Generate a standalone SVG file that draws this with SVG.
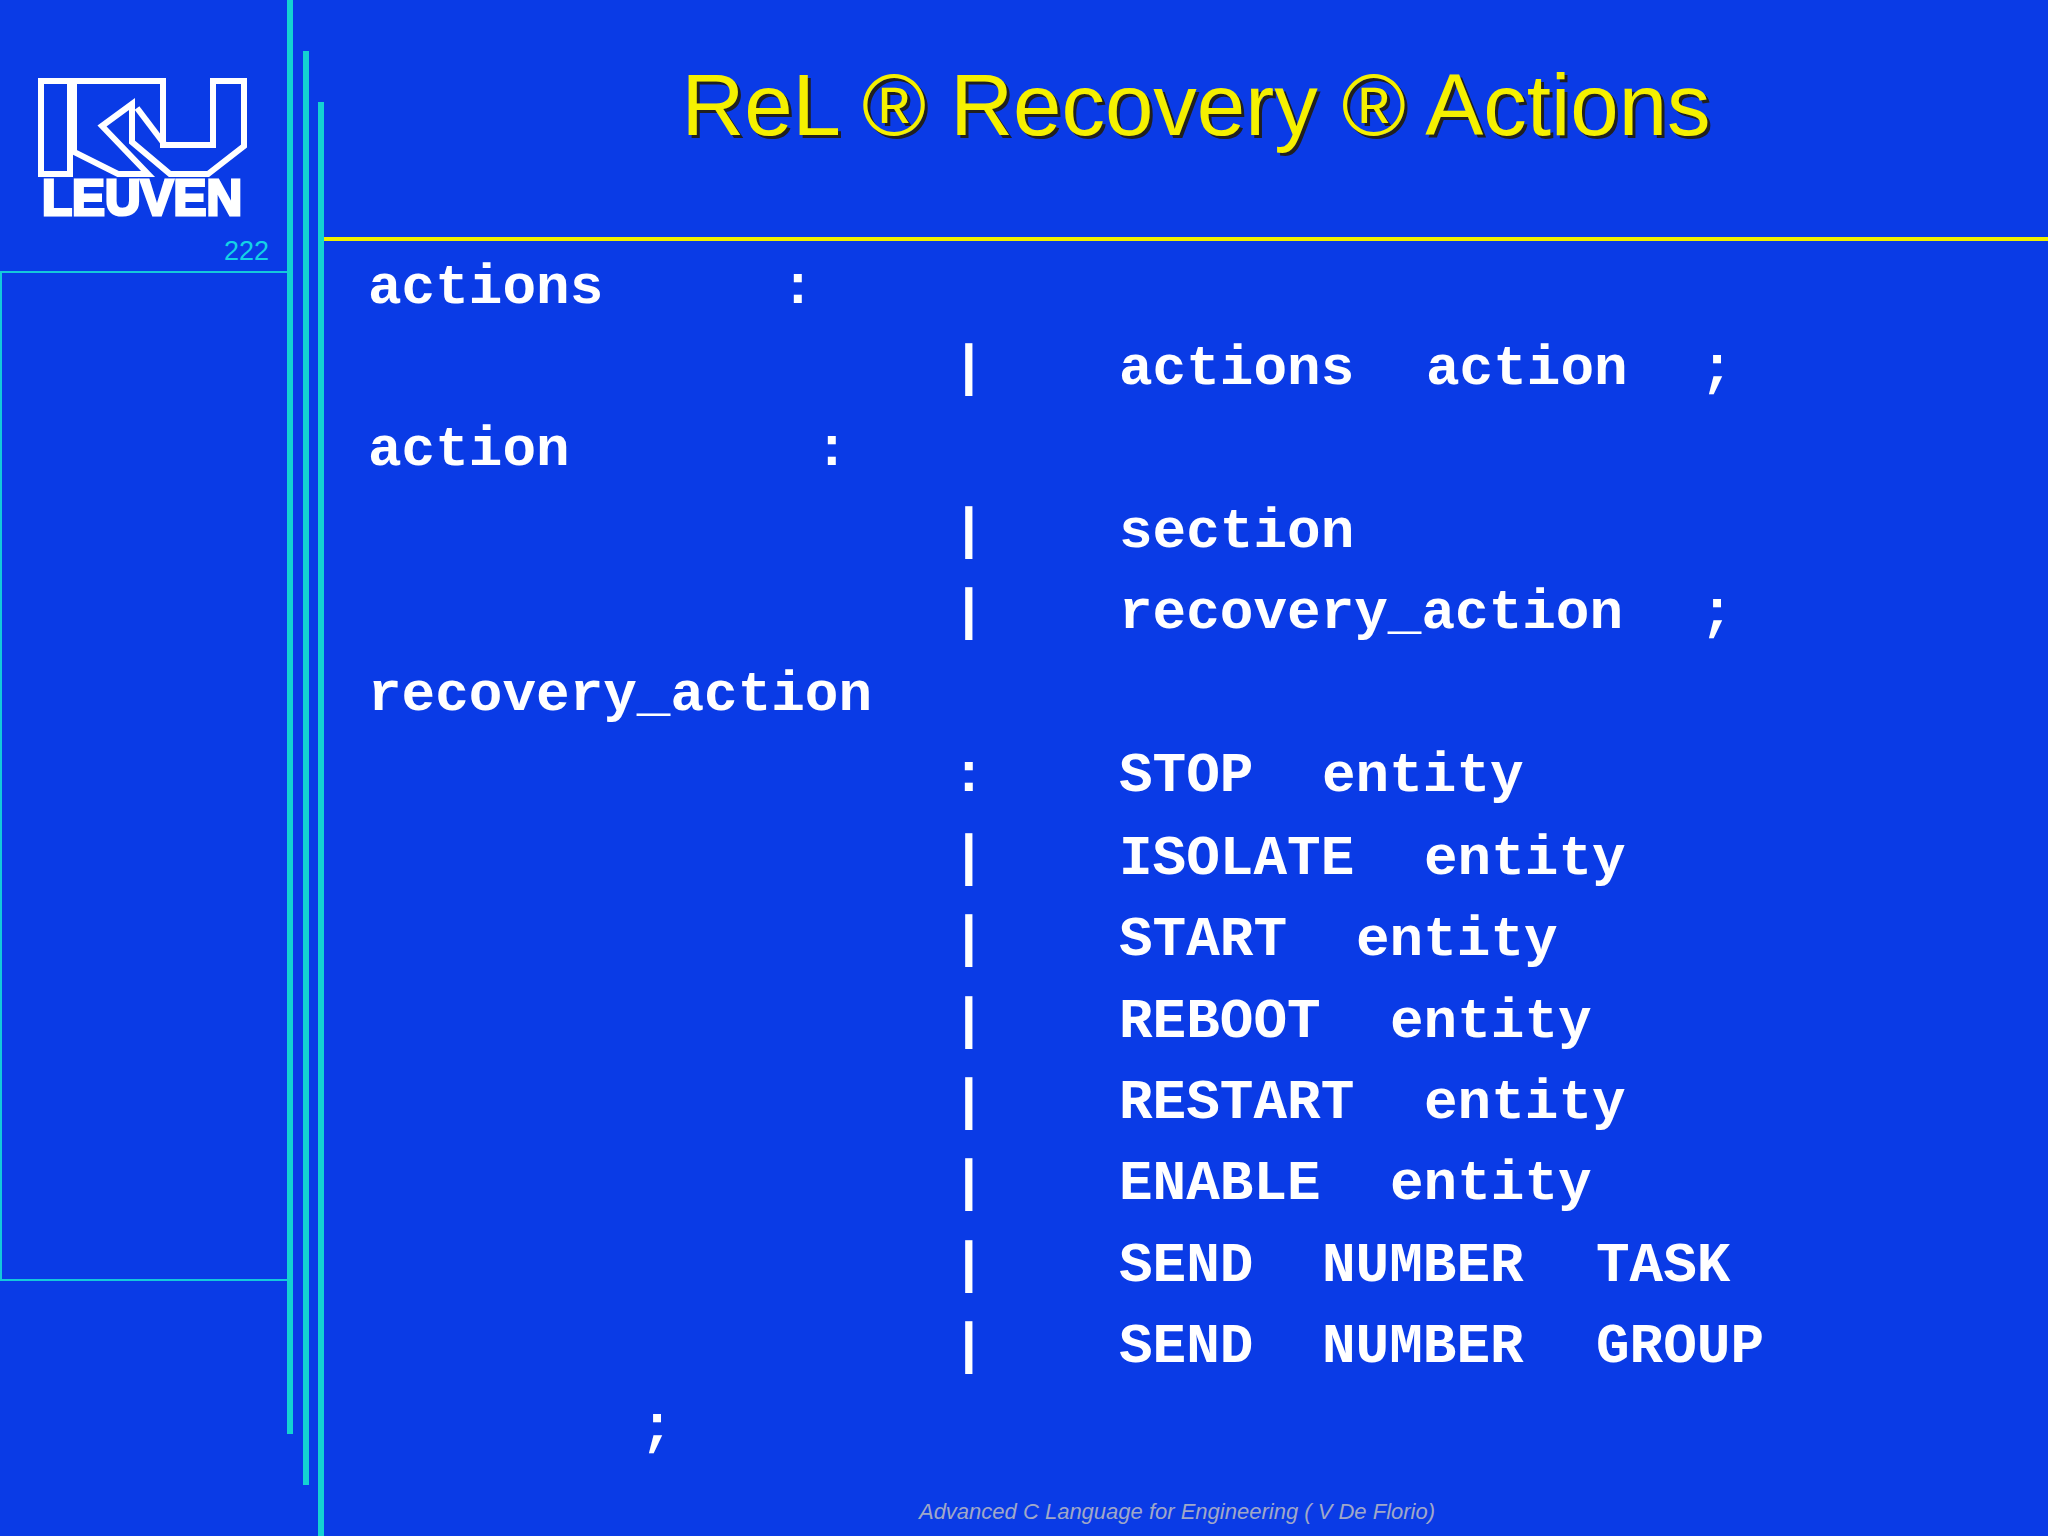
<svg xmlns="http://www.w3.org/2000/svg" width="2048" height="1536" viewBox="0 0 2048 1536">
<style>
.c{font-family:"Liberation Mono","Courier New",monospace;font-weight:bold;font-size:56px;fill:#fff}
.bar{stroke:#14d2d2;stroke-width:6}
</style>
<rect width="2048" height="1536" fill="#0a3be6"/>
<g id="frame">
<rect x="1" y="272" width="287" height="1008" fill="none" stroke="#14c8dc" stroke-width="2"/>
<line class="bar" x1="290" y1="0" x2="290" y2="1434"/>
<line class="bar" x1="306" y1="51" x2="306" y2="1485"/>
<line class="bar" x1="321" y1="102" x2="321" y2="1536"/>
<line x1="324" y1="239" x2="2048" y2="239" stroke="#f0f000" stroke-width="4"/>
</g>
<g id="logo" fill="none" stroke="#fff" stroke-width="6" stroke-linejoin="miter">
<path d="M41,81 H70 V174 H41 Z"/>
<path d="M74,81 H163 V145 H213 V81 H244 V146 L208,174 H170 L132,142 V104 L102,126 L148,174 H118 L74,152 Z"/>
<path d="M165,145 L137,108"/>
</g>
<text x="42" y="215" font-family="Liberation Sans,Arial,sans-serif" font-weight="bold" font-size="50" fill="#fff" stroke="#fff" stroke-width="3" textLength="200" lengthAdjust="spacingAndGlyphs">LEUVEN</text>
<text x="269" y="260" text-anchor="end" font-family="Liberation Sans,Arial,sans-serif" font-size="27" fill="#14d2e6">222</text>
<g id="title" font-family="Liberation Sans,Arial,sans-serif" font-size="87" text-anchor="middle">
<text x="1199" y="138" fill="#202020">ReL ® Recovery ® Actions</text>
<text x="1196" y="135" fill="#f5f000">ReL ® Recovery ® Actions</text>
</g>
<g id="grammar" class="c">
<text x="368" y="303">actions</text><text x="781" y="303">:</text>
<text x="952" y="384">|</text><text x="1119" y="384">actions</text><text x="1426" y="384">action</text><text x="1700" y="384">;</text>
<text x="368" y="465">action</text><text x="815" y="465">:</text>
<text x="952" y="547">|</text><text x="1119" y="547">section</text>
<text x="952" y="628">|</text><text x="1119" y="628">recovery_action</text><text x="1700" y="628">;</text>
<text x="368" y="710">recovery_action</text>
<text x="952" y="791">:</text><text x="1119" y="791">STOP</text><text x="1322" y="791">entity</text>
<text x="952" y="874">|</text><text x="1119" y="874">ISOLATE</text><text x="1424" y="874">entity</text>
<text x="952" y="955">|</text><text x="1119" y="955">START</text><text x="1356" y="955">entity</text>
<text x="952" y="1037">|</text><text x="1119" y="1037">REBOOT</text><text x="1390" y="1037">entity</text>
<text x="952" y="1118">|</text><text x="1119" y="1118">RESTART</text><text x="1424" y="1118">entity</text>
<text x="952" y="1199">|</text><text x="1119" y="1199">ENABLE</text><text x="1390" y="1199">entity</text>
<text x="952" y="1281">|</text><text x="1119" y="1281">SEND</text><text x="1322" y="1281">NUMBER</text><text x="1596" y="1281">TASK</text>
<text x="952" y="1362">|</text><text x="1119" y="1362">SEND</text><text x="1322" y="1362">NUMBER</text><text x="1596" y="1362">GROUP</text>
<text x="640" y="1443">;</text>
</g>
<text x="1177" y="1519" text-anchor="middle" font-family="Liberation Sans,Arial,sans-serif" font-style="italic" font-size="22" fill="#a0a8c8">Advanced C Language for Engineering  ( V De Florio)</text>
</svg>
